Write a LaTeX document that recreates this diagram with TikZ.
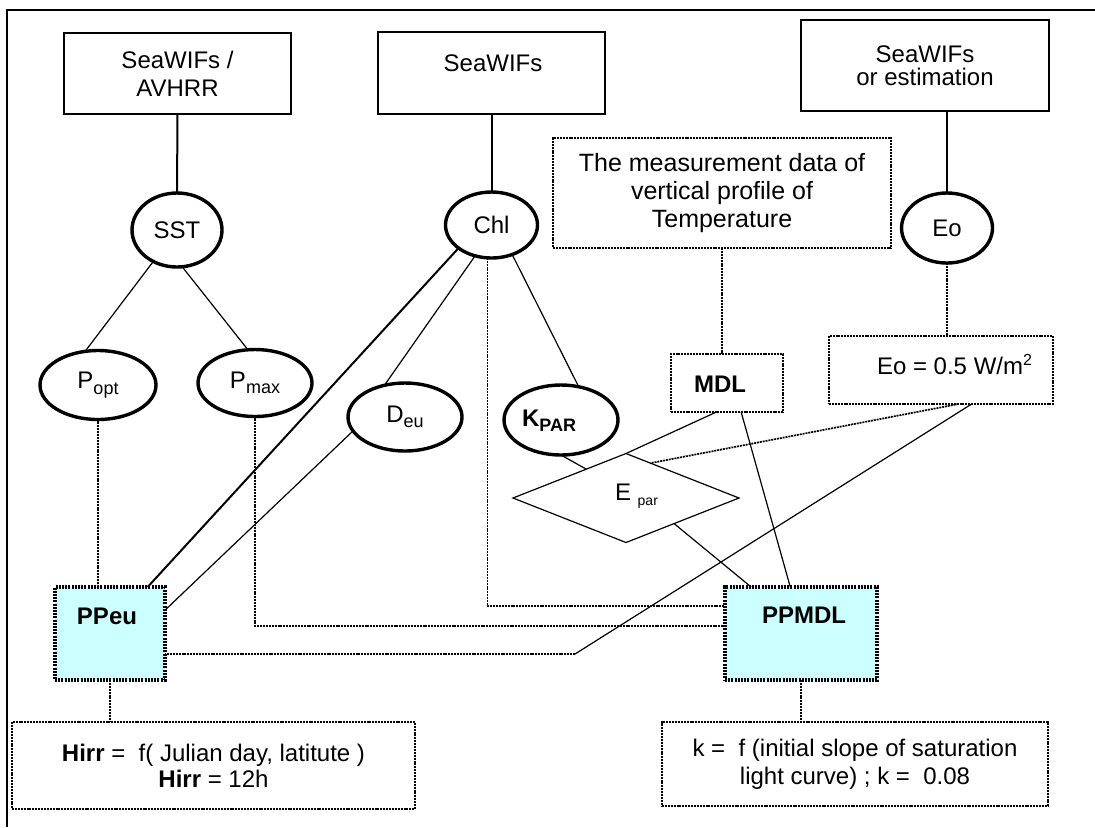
\documentclass[tikz,border=0pt]{standalone}
\usepackage{fontspec}
\setmainfont{Liberation Sans}
\usetikzlibrary{shapes.geometric}
\definecolor{ppcyan}{RGB}{204,255,255}

% lowered index in a reduced size
\newcommand\lowidx[2][9]{\raisebox{-2.6pt}{\fontsize{#1}{#1}\selectfont #2}}

\tikzset{
  every node/.style={font=\fontsize{12}{14}\selectfont, inner sep=0pt, outer sep=0pt},
  srcbox/.style={draw, rectangle, line width=1pt, align=center},
  dotbox/.style={draw, rectangle, line width=0.85pt, dash pattern=on 1pt off 0.45pt, align=center},
  ppbox/.style={draw, rectangle, line width=1.6pt, dash pattern=on 1pt off 0.6pt, fill=ppcyan},
  oval/.style={draw, ellipse, line width=1.7pt},
  feed/.style={line width=1pt},
  link/.style={line width=0.6pt},
  dotlink/.style={line width=0.85pt, dash pattern=on 1pt off 0.45pt},
}

\begin{document}
\begin{tikzpicture}[x=0.5pt, y=-0.5pt]
\useasboundingbox (0,0) rectangle (1095,827);

% outer frame (top and left edges)
\draw[line width=1pt] (7,827) -- (7,10) -- (1095,10);

% data sources
\node[srcbox, minimum width=113.5pt, minimum height=40.5pt] (srcA) at (177.5,73.5) {SeaWIFs /\\AVHRR};
\node[srcbox, minimum width=113.5pt, minimum height=41pt] (srcB) at (491.5,73) {};
\node[anchor=base] (srcBtxt) at (493,71) {SeaWIFs};
\node[srcbox, minimum width=124pt, minimum height=45.5pt] (srcC) at (925,65.5) {SeaWIFs\\[-2.5pt]or estimation};

% measured profile and derived boxes
\node[dotbox, minimum width=169pt, minimum height=55pt, font=\fontsize{12.5}{14}\selectfont] (temp) at (722,193) {The measurement data of\\vertical profile of\\Temperature};
\node[dotbox, minimum width=56pt, minimum height=29pt] (mdl) at (727,383) {};
\node[anchor=base] (mdltxt) at (720,392) {\textbf{MDL}};
\node[dotbox, minimum width=112pt, minimum height=34pt] (eobox) at (941,370) {};
\node[anchor=base] (eotxt) at (955,374) {Eo = 0.5 W/m\textsuperscript{2}};

% parameters
\node[oval, minimum width=45pt, minimum height=37pt] (sst) at (177,230) {SST};
\node[oval, minimum width=46pt, minimum height=33pt] (chl) at (491.5,225) {Chl};
\node[oval, minimum width=45.5pt, minimum height=35pt] (eo) at (947,228) {Eo};
\node[oval, minimum width=58pt, minimum height=34.5pt] (popt) at (98,385) {P\lowidx{opt}};
\node[oval, minimum width=57pt, minimum height=33.5pt] (pmax) at (255,383) {P\lowidx{max}};
\node[oval, minimum width=57pt, minimum height=34pt] (deu) at (405,417) {D\lowidx{eu}};
\node[oval, minimum width=57pt, minimum height=35pt] (kpar) at (561,420) {};
\node (kpartxt) at (549,421) {\textbf{K\lowidx{PAR}}};

% light at depth
\node[draw, diamond, line width=0.6pt, minimum width=113pt, minimum height=44.5pt] (epar) at (626,498) {};
\node[anchor=base west] (epartxt) at (615,500) {E \lowidx[7]{par}};

% production models
\node[ppbox, minimum width=55pt, minimum height=46.5pt] (ppeu) at (110,633.5) {};
\node[anchor=base] (ppeutxt) at (107,624) {\textbf{PPeu}};
\node[ppbox, minimum width=76pt, minimum height=46.5pt] (ppmdl) at (801,633.5) {};
\node[anchor=base] (ppmdltxt) at (804,623) {\textbf{PPMDL}};

% notes
\node[dotbox, minimum width=201.5pt, minimum height=43.5pt] (hirr) at (213.5,765.5) {\textbf{Hirr} =~ f( Julian day, latitute )\\[-1pt]\textbf{Hirr} = 12h};
\node[dotbox, minimum width=193pt, minimum height=42pt] (kbox) at (855,764) {k =~ f (initial slope of saturation\\light curve) ; k =~ 0.08};

% sources to parameters
\draw[feed] (srcA.south) -- (sst.north);
\draw[feed] (srcB.south) -- (chl.north);
\draw[feed] (srcC.south -| eo.north) -- (eo.north);

% temperature branch
\draw[link] (sst.233) -- (popt.111);
\draw[link] (sst.278) -- (pmax.102);
\draw[dotlink] (popt.south) -- (popt.south |- ppeu.north);
\draw[dotlink] (pmax.south) |- ([yshift=3.75pt]ppmdl.west);

% chlorophyll branch
\draw[feed] (chl.215) -- (ppeu.51.5);
\draw[link] (chl.242) -- (deu.123);
\draw[link] (deu.195) -- (ppeu.23);
\draw[dotlink] (chl.263) |- ([yshift=13.75pt]ppmdl.west);
\draw[link] (chl.305) -- (kpar.62);
\draw[link] (kpar.south) -- (epar.144);

% mixed layer depth branch
\draw[dotlink] (temp.south) -- (temp.south |- mdl.north);
\draw[link] (mdl.250) -- (epar.north);
\draw[link] (mdl.296) -- (ppmdl.103);
\draw[link] (epar.332) -- (ppmdl.137);

% surface irradiance branch
\draw[dotlink] (eo.south) -- (eo.south |- eobox.north);
\draw[dotlink] (eobox.297) -- (epar.55);
\coordinate (bend) at (575,654);
\draw[link] (eobox.312) -- (bend);
\draw[dotlink] (bend) -- (ppeu.east |- bend);

% models to notes
\draw[dotlink] (ppeu.south) -- (ppeu.south |- hirr.north);
\draw[dotlink] (ppmdl.south) -- (ppmdl.south |- kbox.north);
\end{tikzpicture}
\end{document}
